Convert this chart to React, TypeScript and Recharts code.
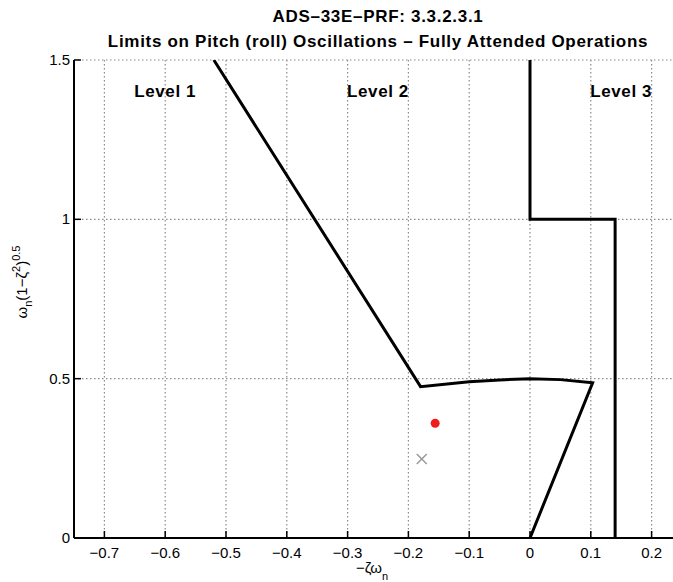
import { CartesianGrid, ComposedChart, Line, Scatter, XAxis, YAxis } from "recharts";

// axis ticks
const xTicks = [-0.7, -0.6, -0.5, -0.4, -0.3, -0.2, -0.1, 0, 0.1, 0.2];
const yTicks = [0, 0.5, 1, 1.5];

// Level 1 / Level 2 boundary: damping line, the ωn = 0.5 arc, back down to the origin
const level12X = [-0.52, -0.18, -0.1, -0.05, 0, 0.05, 0.103, 0];
const level12Y = [1.5, 0.475, 0.49, 0.496, 0.5, 0.497, 0.487, 0];

// Level 2 / Level 3 boundary
const level23X = [0, 0, 0.14, 0.14];
const level23Y = [1.5, 1, 1, 0];

// measured pitch mode (red) and reference point (grey cross)
const measuredX = [-0.156];
const measuredY = [0.36];
const crossX = [-0.178];
const crossY = [0.248];

const levelNames = ["Level 1", "Level 2", "Level 3"];
const levelX = [-0.6, -0.25, 0.15];
const levelY = [1.4, 1.4, 1.4];

const zip = (xs: number[], ys: number[]) => xs.map((x, i) => ({ x, y: ys[i] }));

const level12 = zip(level12X, level12Y);
const level23 = zip(level23X, level23Y);
const measured = zip(measuredX, measuredY);
const cross = zip(crossX, crossY);
const levels = levelNames.map((name, i) => ({ name, x: levelX[i], y: levelY[i] }));

const FONT = "'Liberation Sans', Arial, Helvetica, sans-serif";

const fmt = (v: number) => (v < 0 ? `\u2212${Math.abs(v)}` : `${v}`);

function XTick(props: any) {
  const { x, y, payload } = props;
  return (
    <g>
      <line x1={x} x2={x} y1={y} y2={y - 7} stroke="#000" strokeWidth={1.5} />
      <text x={x} y={y + 20} textAnchor="middle" fontSize={15} fontFamily={FONT} fill="#000">
        {fmt(payload.value)}
      </text>
    </g>
  );
}

function YTick(props: any) {
  const { x, y, payload } = props;
  return (
    <g>
      <line x1={x} x2={x + 7} y1={y} y2={y} stroke="#000" strokeWidth={1.5} />
      <text x={x - 4} y={y + 5} textAnchor="end" fontSize={15} fontFamily={FONT} fill="#000">
        {fmt(payload.value)}
      </text>
    </g>
  );
}

function XLabel() {
  return (
    <text x={372} y={573} textAnchor="middle" fontSize={15} fontFamily={FONT} fill="#000">
      <tspan>{"\u2212\u03b6\u03c9"}</tspan>
      <tspan dy={7} fontSize={11}>n</tspan>
    </text>
  );
}

function YLabel() {
  const cx = 27;
  const cy = 282;
  return (
    <text
      x={cx}
      y={cy}
      transform={`rotate(-90 ${cx} ${cy})`}
      textAnchor="middle"
      fontSize={15}
      fontFamily={FONT}
      fill="#000"
    >
      <tspan>{"\u03c9"}</tspan>
      <tspan dy={5} fontSize={11}>n</tspan>
      <tspan dy={-5}>{"(1\u2212\u03b6"}</tspan>
      <tspan dy={-7} fontSize={11}>2</tspan>
      <tspan dy={7}>)</tspan>
      <tspan dy={-7} fontSize={11}>0.5</tspan>
    </text>
  );
}

function RedDot(props: any) {
  return <circle cx={props.cx} cy={props.cy} r={4.5} fill="#ee1c1c" />;
}

function GreyCross(props: any) {
  const { cx, cy } = props;
  const s = 5;
  return (
    <g stroke="#9a9a9a" strokeWidth={1.5}>
      <line x1={cx - s} y1={cy - s} x2={cx + s} y2={cy + s} />
      <line x1={cx - s} y1={cy + s} x2={cx + s} y2={cy - s} />
    </g>
  );
}

function LevelText(props: any) {
  return (
    <text
      x={props.cx}
      y={props.cy}
      textAnchor="middle"
      dominantBaseline="central"
      fontSize={17}
      fontWeight="bold"
      letterSpacing={0.6}
      fontFamily={FONT}
      fill="#000"
    >
      {props.payload.name}
    </text>
  );
}

export default function App() {
  return (
    <div
      style={{
        position: "fixed",
        left: 0,
        top: 0,
        width: 673,
        height: 582,
        overflow: "hidden",
        background: "#fff",
      }}
    >
      <div
        style={{
          position: "absolute",
          left: 0,
          top: 4,
          width: 756,
          textAlign: "center",
          fontFamily: FONT,
          fontWeight: "bold",
          fontSize: 17,
          letterSpacing: 0.7,
          lineHeight: "25px",
          color: "#000",
        }}
      >
        <div>ADS–33E–PRF: 3.3.2.3.1</div>
        <div>Limits on Pitch (roll) Oscillations – Fully Attended Operations</div>
      </div>
      <ComposedChart
        width={690}
        height={582}
        margin={{ top: 60, right: 8, bottom: 14, left: 24 }}
        style={{ position: "absolute", left: 0, top: 0 }}
      >
        <CartesianGrid stroke="#8a8a8a" strokeWidth={1.2} strokeDasharray="1.5 2.5" />
        <XAxis
          dataKey="x"
          type="number"
          domain={[-0.75, 0.25]}
          ticks={xTicks}
          allowDataOverflow
          height={30}
          tickSize={0}
          tickMargin={0}
          tickLine={false}
          tick={<XTick />}
          axisLine={{ stroke: "#000", strokeWidth: 2 }}
          label={<XLabel />}
        />
        <YAxis
          dataKey="y"
          type="number"
          domain={[0, 1.5]}
          ticks={yTicks}
          allowDataOverflow
          width={50}
          tickSize={0}
          tickMargin={0}
          tickLine={false}
          tick={<YTick />}
          axisLine={{ stroke: "#000", strokeWidth: 2 }}
          label={<YLabel />}
        />
        <Line
          data={level12}
          dataKey="y"
          type="linear"
          stroke="#000"
          strokeWidth={3}
          dot={false}
          activeDot={false}
          isAnimationActive={false}
        />
        <Line
          data={level23}
          dataKey="y"
          type="linear"
          stroke="#000"
          strokeWidth={3}
          dot={false}
          activeDot={false}
          isAnimationActive={false}
        />
        <Scatter data={measured} dataKey="y" shape={<RedDot />} isAnimationActive={false} />
        <Scatter data={cross} dataKey="y" shape={<GreyCross />} isAnimationActive={false} />
        <Scatter data={levels} dataKey="y" shape={<LevelText />} isAnimationActive={false} />
      </ComposedChart>
    </div>
  );
}
